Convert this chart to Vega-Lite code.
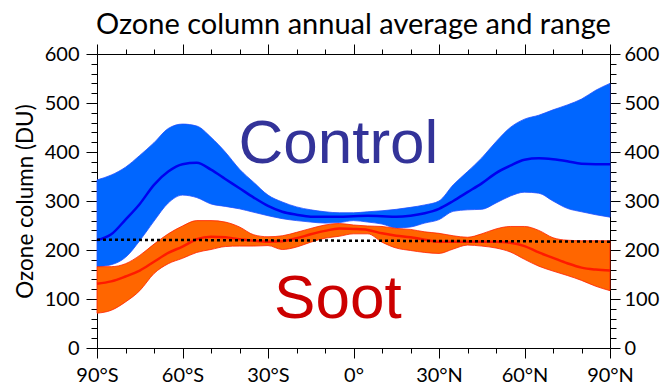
{
  "$schema": "https://vega.github.io/schema/vega-lite/v6.json",
  "width": 513,
  "height": 294,
  "autosize": "none",
  "padding": {"left": 97, "top": 54, "right": 53, "bottom": 41},
  "title": {"text": "Ozone column annual average and range", "font": "Lato", "fontSize": 29, "fontWeight": "normal", "color": "black", "anchor": "middle", "baseline": "alphabetic", "offset": 11, "dy": 30},
  "config": {
    "view": {"stroke": null},
    "axis": {"grid": false, "domainColor": "black", "tickColor": "black", "labelColor": "black", "titleColor": "black", "labelFont": "Lato", "titleFont": "Lato", "labelFontSize": 20, "titleFontWeight": "normal", "domainWidth": 1, "tickWidth": 1}
  },
  "datasets": {
    "oz": [
      {"lat": -90, "cmean": 220, "cmin": 166, "cmax": 343, "smean": 131, "smin": 71, "smax": 166},
      {"lat": -85, "cmean": 232, "cmin": 170, "cmax": 353, "smean": 136, "smin": 77, "smax": 166},
      {"lat": -80, "cmean": 262, "cmin": 185, "cmax": 369, "smean": 146, "smin": 94, "smax": 172},
      {"lat": -75, "cmean": 294, "cmin": 219, "cmax": 393, "smean": 158, "smin": 117, "smax": 189},
      {"lat": -70, "cmean": 333, "cmin": 259, "cmax": 419, "smean": 176, "smin": 152, "smax": 212},
      {"lat": -65, "cmean": 360, "cmin": 296, "cmax": 448, "smean": 194, "smin": 172, "smax": 233},
      {"lat": -60, "cmean": 375, "cmin": 312, "cmax": 457, "smean": 207, "smin": 183, "smax": 249},
      {"lat": -55, "cmean": 378, "cmin": 307, "cmax": 453, "smean": 222, "smin": 195, "smax": 260},
      {"lat": -50, "cmean": 364, "cmin": 294, "cmax": 430, "smean": 227, "smin": 201, "smax": 260},
      {"lat": -45, "cmean": 345, "cmin": 289, "cmax": 400, "smean": 226, "smin": 207, "smax": 257},
      {"lat": -40, "cmean": 326, "cmin": 284, "cmax": 365, "smean": 222, "smin": 208, "smax": 247},
      {"lat": -35, "cmean": 307, "cmin": 277, "cmax": 338, "smean": 219, "smin": 208, "smax": 231},
      {"lat": -30, "cmean": 290, "cmin": 270, "cmax": 312, "smean": 217, "smin": 209, "smax": 227},
      {"lat": -25, "cmean": 278, "cmin": 264, "cmax": 298, "smean": 218, "smin": 201, "smax": 229},
      {"lat": -20, "cmean": 272, "cmin": 260, "cmax": 288, "smean": 224, "smin": 206, "smax": 236},
      {"lat": -15, "cmean": 268, "cmin": 257, "cmax": 282, "smean": 232, "smin": 216, "smax": 244},
      {"lat": -10, "cmean": 268, "cmin": 255, "cmax": 278, "smean": 239, "smin": 224, "smax": 251},
      {"lat": -5, "cmean": 268, "cmin": 256, "cmax": 276, "smean": 244, "smin": 228, "smax": 254},
      {"lat": 0, "cmean": 269, "cmin": 260, "cmax": 276, "smean": 243, "smin": 233, "smax": 251},
      {"lat": 5, "cmean": 270, "cmin": 257, "cmax": 278, "smean": 241, "smin": 233, "smax": 249},
      {"lat": 10, "cmean": 269, "cmin": 253, "cmax": 280, "smean": 234, "smin": 216, "smax": 248},
      {"lat": 15, "cmean": 268, "cmin": 245, "cmax": 283, "smean": 229, "smin": 204, "smax": 244},
      {"lat": 20, "cmean": 270, "cmin": 247, "cmax": 287, "smean": 226, "smin": 199, "smax": 242},
      {"lat": 25, "cmean": 275, "cmin": 255, "cmax": 292, "smean": 221, "smin": 195, "smax": 237},
      {"lat": 30, "cmean": 284, "cmin": 262, "cmax": 300, "smean": 217, "smin": 193, "smax": 234},
      {"lat": 35, "cmean": 300, "cmin": 279, "cmax": 333, "smean": 217, "smin": 202, "smax": 229},
      {"lat": 40, "cmean": 318, "cmin": 282, "cmax": 360, "smean": 217, "smin": 210, "smax": 226},
      {"lat": 45, "cmean": 336, "cmin": 283, "cmax": 388, "smean": 217, "smin": 208, "smax": 233},
      {"lat": 50, "cmean": 357, "cmin": 296, "cmax": 421, "smean": 217, "smin": 204, "smax": 243},
      {"lat": 55, "cmean": 372, "cmin": 310, "cmax": 450, "smean": 215, "smin": 196, "smax": 248},
      {"lat": 60, "cmean": 384, "cmin": 318, "cmax": 467, "smean": 208, "smin": 181, "smax": 248},
      {"lat": 65, "cmean": 387, "cmin": 316, "cmax": 475, "smean": 195, "smin": 167, "smax": 240},
      {"lat": 70, "cmean": 385, "cmin": 300, "cmax": 486, "smean": 184, "smin": 157, "smax": 225},
      {"lat": 75, "cmean": 381, "cmin": 285, "cmax": 496, "smean": 173, "smin": 148, "smax": 220},
      {"lat": 80, "cmean": 376, "cmin": 278, "cmax": 508, "smean": 164, "smin": 138, "smax": 219},
      {"lat": 85, "cmean": 375, "cmin": 272, "cmax": 526, "smean": 160, "smin": 126, "smax": 219},
      {"lat": 90, "cmean": 375, "cmin": 267, "cmax": 540, "smean": 158, "smin": 117, "smax": 219}
    ],
    "ref": [
      {"lat": -90, "du": 221},
      {"lat": 90, "du": 217}
    ],
    "labels": [
      {"label": "Control", "lat": -5.3, "du": 377},
      {"label": "Soot", "lat": -5.5, "du": 61}
    ]
  },
  "layer": [
    {
      "data": {"name": "oz"},
      "mark": {"type": "area", "color": "#0066FF", "stroke": "#1f4fff", "strokeWidth": 0.8, "interpolate": "monotone"},
      "encoding": {
        "x": {"field": "lat", "type": "quantitative", "scale": {"domain": [-90, 90], "nice": false, "zero": false},
          "axis": {"orient": "bottom", "title": null, "values": [-90,-80,-70,-60,-50,-40,-30,-20,-10,0,10,20,30,40,50,60,70,80,90],
            "labelExpr": "datum.value % 30 !== 0 ? '' : (datum.value < 0 ? (-datum.value) + '°S' : (datum.value > 0 ? datum.value + '°N' : '0°'))",
            "tickSize": {"condition": {"test": "datum.value % 30 === 0", "value": 10}, "value": 5}, "labelPadding": 7, "labelFlush": false, "labelOverlap": false}},
        "y": {"field": "cmax", "type": "quantitative", "scale": {"domain": [0, 600], "nice": false},
          "axis": {"orient": "left", "title": "Ozone column (DU)", "titleFontSize": 22.5, "titlePadding": 7,
            "values": [0,20,40,60,80,100,120,140,160,180,200,220,240,260,280,300,320,340,360,380,400,420,440,460,480,500,520,540,560,580,600],
            "labelExpr": "datum.value % 100 === 0 ? datum.label : ''",
            "tickSize": {"condition": {"test": "datum.value % 100 === 0", "value": 11}, "value": 6}, "labelPadding": 7, "labelOverlap": false}},
        "y2": {"field": "cmin"}
      }
    },
    {
      "data": {"name": "oz"},
      "mark": {"type": "area", "color": "#FF6600", "stroke": "#FF2000", "strokeWidth": 0.8, "interpolate": "monotone"},
      "encoding": {
        "x": {"field": "lat", "type": "quantitative",
          "axis": {"orient": "top", "title": null, "labels": false, "values": [-90,-80,-70,-60,-50,-40,-30,-20,-10,0,10,20,30,40,50,60,70,80,90],
            "tickSize": {"condition": {"test": "datum.value % 30 === 0", "value": 10}, "value": 5}}},
        "y": {"field": "smax", "type": "quantitative",
          "axis": {"orient": "right", "title": null,
            "values": [0,20,40,60,80,100,120,140,160,180,200,220,240,260,280,300,320,340,360,380,400,420,440,460,480,500,520,540,560,580,600],
            "labelExpr": "datum.value % 100 === 0 ? datum.label : ''",
            "tickSize": {"condition": {"test": "datum.value % 100 === 0", "value": 10}, "value": 6}, "labelPadding": 4, "labelOverlap": false}},
        "y2": {"field": "smin"}
      }
    },
    {
      "data": {"name": "oz"},
      "mark": {"type": "line", "color": "#0000EE", "strokeWidth": 2.5, "interpolate": "monotone"},
      "encoding": {
        "x": {"field": "lat", "type": "quantitative", "axis": null},
        "y": {"field": "cmean", "type": "quantitative", "axis": null}
      }
    },
    {
      "data": {"name": "oz"},
      "mark": {"type": "line", "color": "#FF1A00", "strokeWidth": 2.5, "interpolate": "monotone"},
      "encoding": {
        "x": {"field": "lat", "type": "quantitative", "axis": null},
        "y": {"field": "smean", "type": "quantitative", "axis": null}
      }
    },
    {
      "data": {"name": "ref"},
      "mark": {"type": "line", "color": "black", "strokeWidth": 2.5, "strokeDash": [3, 3]},
      "encoding": {
        "x": {"field": "lat", "type": "quantitative", "axis": null},
        "y": {"field": "du", "type": "quantitative", "axis": null}
      }
    },
    {
      "data": {"name": "labels"},
      "transform": [{"filter": "datum.label === 'Control'"}],
      "mark": {"type": "text", "font": "Liberation Sans", "fontSize": 62, "color": "#333399", "align": "center", "baseline": "alphabetic"},
      "encoding": {
        "x": {"field": "lat", "type": "quantitative", "axis": null},
        "y": {"field": "du", "type": "quantitative", "axis": null},
        "text": {"field": "label"}
      }
    },
    {
      "data": {"name": "labels"},
      "transform": [{"filter": "datum.label === 'Soot'"}],
      "mark": {"type": "text", "font": "Liberation Sans", "fontSize": 62, "color": "#CC0000", "align": "center", "baseline": "alphabetic"},
      "encoding": {
        "x": {"field": "lat", "type": "quantitative", "axis": null},
        "y": {"field": "du", "type": "quantitative", "axis": null},
        "text": {"field": "label"}
      }
    }
  ],
  "resolve": {"axis": {"x": "independent", "y": "independent"}}
}
